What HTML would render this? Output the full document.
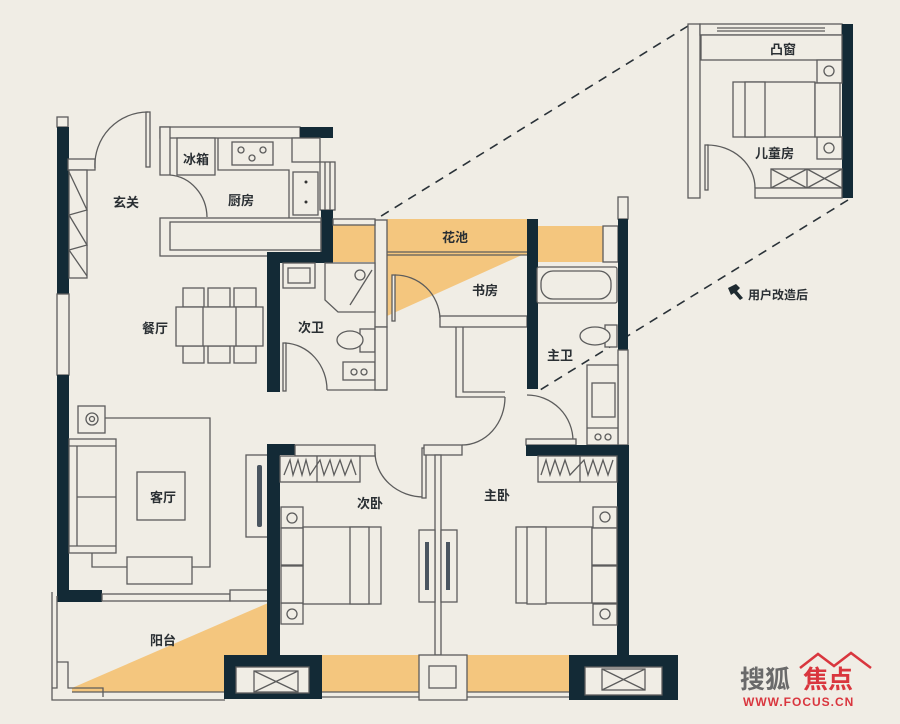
<!DOCTYPE html>
<html><head><meta charset="utf-8"><style>
html,body{margin:0;padding:0;background:#f0ede5;}
svg{display:block}
text{font-family:"Liberation Sans","Noto Sans CJK SC",sans-serif;font-weight:bold;fill:#2a2f33;font-size:13px}
.l{fill:none;stroke:#5c5c5c;stroke-width:1.3}
.b{fill:#f0ede5;stroke:#5c5c5c;stroke-width:1.3}
.d{fill:#132a36}
.o{fill:#f4c67e}
.dash{stroke:#2a3238;stroke-width:1.6;stroke-dasharray:9 7;fill:none}
</style></head><body>
<svg width="900" height="724" viewBox="0 0 900 724" xmlns="http://www.w3.org/2000/svg">
<rect width="900" height="724" fill="#f0ede5"/>
<!-- dashed leaders -->
<line class="dash" x1="688" y1="26" x2="378" y2="218"/>
<line class="dash" x1="848" y1="200" x2="540" y2="390"/>

<!-- orange areas -->
<rect class="o" x="333" y="225" width="42" height="37"/>
<rect class="o" x="387" y="219" width="140" height="36"/>
<polygon class="o" points="387,255 522,255 387,316"/>
<rect class="o" x="538" y="226" width="65" height="36"/>
<polygon class="o" points="72,688 268,603 268,692 72,692"/>
<rect class="o" x="322" y="655" width="97" height="37"/>
<rect class="o" x="467" y="655" width="102" height="37"/>

<!-- left outer wall -->
<rect class="b" x="57" y="117" width="11" height="10"/>
<rect class="d" x="57" y="127" width="12" height="167"/>
<rect class="b" x="57" y="294" width="12" height="81"/>
<rect class="d" x="57" y="375" width="12" height="227"/>
<rect class="d" x="57" y="590" width="45" height="12"/>
<!-- left window wall -->
<rect class="b" x="68" y="159" width="27" height="11"/>
<rect class="b" x="69" y="170" width="18" height="108"/>
<polyline class="l" points="69,172 87,210 69,215 87,245 69,250 87,276"/>
<!-- entry door -->
<rect class="b" x="146" y="112" width="4" height="55"/>
<path class="l" d="M95,168 A53,53 0 0 1 148,112"/>
<!-- kitchen -->
<rect class="b" x="160" y="127" width="140" height="11"/>
<rect class="d" x="300" y="127" width="33" height="11"/>
<rect class="b" x="160" y="127" width="10" height="48"/>
<rect class="b" x="177" y="138" width="38" height="37"/>
<text x="183" y="164">冰箱</text>
<polyline class="l" points="218,138 218,170 289,170 289,218"/>
<rect class="b" x="232" y="142" width="41" height="23"/>
<circle cx="241" cy="150" r="3" class="l"/><circle cx="263" cy="150" r="3" class="l"/><circle cx="252" cy="158" r="3" class="l"/>
<rect class="b" x="292" y="138" width="28" height="24"/>
<rect class="b" x="293" y="172" width="25" height="43"/>
<circle cx="306" cy="182" r="1.5" fill="#333"/><circle cx="306" cy="202" r="1.5" fill="#333"/>
<rect class="b" x="320" y="162" width="15" height="48"/>
<line class="l" x1="325" y1="162" x2="325" y2="210"/><line class="l" x1="330" y1="162" x2="330" y2="210"/>
<rect class="d" x="321" y="210" width="12" height="53"/>
<text x="228" y="205">厨房</text>
<path class="l" d="M170,175 A40,43 0 0 1 207,217"/>
<rect class="b" x="160" y="218" width="161" height="38"/>
<rect class="l" x="170" y="222" width="151" height="28"/>
<text x="113" y="207">玄关</text>
<!-- dining -->
<rect class="b" x="183" y="288" width="21" height="19"/><rect class="b" x="208" y="288" width="22" height="19"/><rect class="b" x="234" y="288" width="22" height="19"/>
<rect class="b" x="183" y="346" width="21" height="17"/><rect class="b" x="208" y="346" width="22" height="17"/><rect class="b" x="234" y="346" width="22" height="17"/>
<rect class="b" x="176" y="307" width="87" height="39"/>
<line class="l" x1="203" y1="307" x2="203" y2="346"/><line class="l" x1="236" y1="307" x2="236" y2="346"/>
<text x="142" y="333">餐厅</text>
<!-- secondary bath -->
<rect class="d" x="267" y="252" width="66" height="11"/>
<rect class="d" x="267" y="252" width="13" height="140"/>
<rect class="b" x="375" y="220" width="12" height="107"/>
<rect class="b" x="333" y="219" width="42" height="6"/>
<rect class="b" x="283" y="263" width="32" height="25"/>
<rect class="l" x="288" y="268" width="22" height="15"/>
<polygon class="b" points="325,263 375,263 375,312 338,312 325,300"/>
<circle cx="360" cy="275" r="5" class="l"/>
<line class="l" x1="350" y1="305" x2="372" y2="270"/>
<rect class="b" x="360" y="329" width="15" height="23"/>
<ellipse class="b" cx="350" cy="340" rx="13" ry="9"/>
<rect class="b" x="343" y="362" width="32" height="18"/>
<circle cx="354" cy="372" r="3" class="l"/><circle cx="364" cy="372" r="3" class="l"/>
<rect class="b" x="375" y="327" width="12" height="63"/>
<line class="l" x1="327" y1="390" x2="387" y2="390"/>
<rect class="b" x="283" y="343" width="3" height="48"/>
<path class="l" d="M285,343 A44,47 0 0 1 327,390"/>
<text x="298" y="332">次卫</text>
<!-- study -->
<line class="l" x1="387" y1="252" x2="527" y2="252"/>
<line class="l" x1="387" y1="255" x2="527" y2="255"/>
<rect class="b" x="392" y="275" width="3" height="46"/>
<path class="l" d="M395,275 A45,45 0 0 1 440,318"/>
<rect class="b" x="440" y="316" width="87" height="11"/>
<text x="472" y="295">书房</text>
<text x="442" y="242">花池</text>
<rect class="d" x="527" y="219" width="11" height="170"/>
<!-- master bath -->
<rect class="b" x="603" y="226" width="15" height="36"/>
<rect class="b" x="618" y="197" width="10" height="22"/>
<rect class="d" x="618" y="219" width="10" height="131"/>
<rect class="b" x="618" y="350" width="10" height="95"/>
<rect class="b" x="537" y="267" width="80" height="36" rx="2"/>
<rect class="l" x="541" y="271" width="70" height="28" rx="12"/>
<rect class="b" x="605" y="325" width="12" height="22"/>
<ellipse class="b" cx="595" cy="336" rx="15" ry="9"/>
<rect class="b" x="587" y="365" width="31" height="80"/>
<rect class="l" x="592" y="383" width="23" height="34"/>
<line class="l" x1="587" y1="428" x2="618" y2="428"/>
<circle cx="598" cy="437" r="3" class="l"/><circle cx="608" cy="437" r="3" class="l"/>
<path class="l" d="M527,395 A46,46 0 0 1 573,441"/>
<rect class="b" x="526" y="439" width="50" height="6"/>
<text x="547" y="360">主卫</text>
<!-- hallway -->
<polyline class="l" points="456,327 456,397 505,397"/>
<polyline class="l" points="463,327 463,392 505,392"/>
<path class="l" d="M505,397 A43,48 0 0 1 462,445"/>
<!-- living -->
<rect class="b" x="78" y="406" width="27" height="27"/>
<circle cx="92" cy="419" r="6" class="l"/><circle cx="92" cy="419" r="2.5" class="l"/>
<polyline class="l" points="105,418 210,418 210,567 192,567"/>
<rect class="b" x="69" y="439" width="47" height="114"/>
<line class="l" x1="77" y1="446" x2="77" y2="546"/>
<line class="l" x1="77" y1="497" x2="116" y2="497"/>
<line class="l" x1="69" y1="446" x2="116" y2="446"/><line class="l" x1="69" y1="546" x2="116" y2="546"/>
<polyline class="l" points="92,553 92,567 127,567"/>
<rect class="b" x="137" y="472" width="48" height="48"/>
<text x="150" y="502">客厅</text>
<rect class="b" x="127" y="557" width="65" height="27"/>
<!-- balcony -->
<rect class="b" x="102" y="594" width="128" height="7"/>
<rect class="b" x="230" y="590" width="38" height="11"/>
<polyline class="l" points="52,592 52,700 225,700"/>
<polyline class="l" points="57,596 57,688 52,688"/>
<polyline class="l" points="57,662 68,662 68,688 103,688 103,697"/>
<line class="l" x1="72" y1="692" x2="225" y2="692"/>
<text x="150" y="645">阳台</text>
<!-- bedroom 2 -->
<rect class="b" x="246" y="455" width="22" height="82"/>
<rect x="257" y="465" width="5" height="62" rx="2" fill="#4a5560"/>
<rect class="d" x="267" y="444" width="13" height="212"/>
<rect class="d" x="267" y="444" width="28" height="11"/>
<rect class="b" x="295" y="445" width="80" height="11"/>
<rect class="b" x="280" y="456" width="80" height="26"/>
<line class="l" x1="317" y1="456" x2="317" y2="482"/>
<polyline class="l" points="284,475 290,460 293,475 298,460 302,475 306,460 310,475 320,460 324,475 330,460 334,475 340,460 345,475 351,460 356,475"/>
<rect class="b" x="281" y="507" width="22" height="21"/><rect class="b" x="281" y="603" width="22" height="21"/>
<circle cx="292" cy="518" r="5" class="l"/><circle cx="292" cy="614" r="5" class="l"/>
<rect class="b" x="303" y="527" width="78" height="77"/>
<rect class="b" x="350" y="527" width="19" height="77"/>
<rect class="b" x="281" y="528" width="22" height="37" stroke="#132a36" stroke-width="2"/>
<rect class="b" x="281" y="566" width="22" height="37" stroke="#132a36" stroke-width="2"/>
<path class="l" d="M375,452 A49,45 0 0 0 424,497"/>
<rect class="b" x="422" y="448" width="4" height="50"/>
<rect class="b" x="424" y="445" width="38" height="10"/>
<text x="357" y="508">次卧</text>
<rect class="b" x="435" y="455" width="6" height="200"/>
<rect class="b" x="419" y="530" width="16" height="72"/><rect class="b" x="441" y="530" width="16" height="72"/>
<rect x="425" y="542" width="4" height="48" fill="#4a5560"/><rect x="446" y="542" width="4" height="48" fill="#4a5560"/>
<!-- master bedroom -->
<rect class="d" x="526" y="445" width="103" height="11"/>
<rect class="d" x="617" y="445" width="12" height="211"/>
<rect class="b" x="538" y="456" width="79" height="26"/>
<line class="l" x1="580" y1="456" x2="580" y2="482"/>
<polyline class="l" points="541,475 546,460 550,475 555,460 560,475 565,460 570,475 584,460 588,475 593,460 598,475 603,460 608,475 613,460"/>
<rect class="b" x="593" y="507" width="24" height="21"/><rect class="b" x="593" y="604" width="24" height="21"/>
<circle cx="605" cy="517" r="5" class="l"/><circle cx="605" cy="614" r="5" class="l"/>
<rect class="b" x="516" y="527" width="76" height="76"/>
<rect class="b" x="527" y="527" width="19" height="77"/>
<rect class="b" x="592" y="528" width="25" height="37" stroke="#132a36" stroke-width="2"/>
<rect class="b" x="592" y="566" width="25" height="37" stroke="#132a36" stroke-width="2"/>
<text x="484" y="500">主卧</text>
<!-- bottom wall -->
<rect class="d" x="224" y="655" width="98" height="44"/>
<rect class="b" x="236" y="667" width="73" height="26"/>
<rect class="b" x="254" y="671" width="44" height="21"/>
<line class="l" x1="254" y1="671" x2="298" y2="692"/><line class="l" x1="298" y1="671" x2="254" y2="692"/>
<rect class="b" x="419" y="655" width="48" height="45"/>
<rect class="b" x="429" y="666" width="27" height="22"/>
<line class="l" x1="322" y1="692" x2="419" y2="692"/><line class="l" x1="322" y1="697" x2="419" y2="697"/>
<line class="l" x1="467" y1="692" x2="569" y2="692"/><line class="l" x1="467" y1="697" x2="569" y2="697"/>
<rect class="d" x="569" y="655" width="109" height="45"/>
<rect class="b" x="585" y="667" width="77" height="28"/>
<rect class="b" x="602" y="669" width="43" height="21"/>
<line class="l" x1="602" y1="669" x2="645" y2="690"/><line class="l" x1="645" y1="669" x2="602" y2="690"/>
<!-- inset child room -->
<rect class="b" x="688" y="24" width="12" height="174"/>
<rect class="b" x="700" y="24" width="142" height="11"/>
<line class="l" x1="717" y1="28" x2="825" y2="28"/><line class="l" x1="717" y1="31" x2="825" y2="31"/>
<rect class="d" x="842" y="24" width="11" height="174"/>
<rect class="b" x="701" y="35" width="141" height="25"/>
<text x="770" y="54">凸窗</text>
<rect class="b" x="817" y="60" width="25" height="23"/><rect class="b" x="817" y="137" width="25" height="22"/>
<circle cx="829" cy="71" r="5" class="l"/><circle cx="829" cy="148" r="5" class="l"/>
<rect class="b" x="733" y="82" width="82" height="55"/>
<rect class="b" x="745" y="82" width="20" height="55"/>
<rect class="b" x="815" y="83" width="25" height="54" stroke="#132a36" stroke-width="2"/>
<text x="755" y="158">儿童房</text>
<rect class="b" x="771" y="169" width="71" height="19"/>
<line class="l" x1="807" y1="169" x2="807" y2="188"/>
<line class="l" x1="771" y1="169" x2="807" y2="188"/><line class="l" x1="807" y1="169" x2="771" y2="188"/>
<line class="l" x1="807" y1="169" x2="842" y2="188"/><line class="l" x1="842" y1="169" x2="807" y2="188"/>
<rect class="b" x="755" y="188" width="87" height="10"/>
<rect class="b" x="705" y="145" width="3" height="45"/>
<path class="l" d="M707,145 A48,43 0 0 1 755,188"/>
<!-- note -->
<path d="M728,288 l8,-4 l4,4 l-3,3 l6,7 l-3,2 l-6,-7 l-3,2z" fill="#1e2a30"/>
<text x="748" y="299" style="font-size:12px">用户改造后</text>
<!-- watermark -->
<text x="740" y="688" style="font-size:25px;fill:#6a6a6a">搜狐</text>
<path d="M800,668 l18,-14 l16,12 l17,-13 l20,15" fill="none" stroke="#d9363e" stroke-width="2.5"/>
<text x="803" y="688" style="font-size:25px;fill:#d9363e">焦点</text>
<text x="743" y="706" style="font-size:12px;fill:#d9363e;letter-spacing:1px">WWW.FOCUS.CN</text>
</svg>
</body></html>
